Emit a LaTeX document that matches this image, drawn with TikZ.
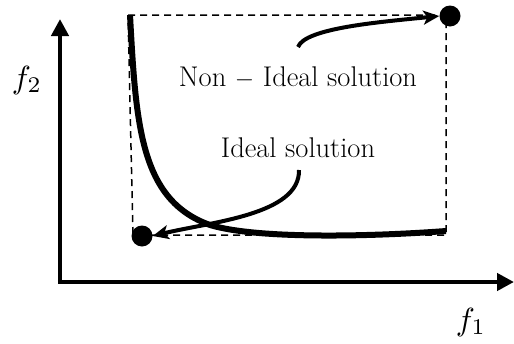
\documentclass[tikz,border=0pt]{standalone}
\usepackage{fontspec}
\usepackage{graphicx}
\usetikzlibrary{arrows.meta}
\begin{document}
\begin{tikzpicture}[x=1pt,y=-1pt,
  axis/.style={line width=4.5pt,-{Triangle[length=17pt,width=17pt]}},
  dot/.style={circle,fill=black,inner sep=0pt,minimum size=21pt},
  pointer/.style={line width=4pt,-{Stealth[length=16pt,width=14pt,inset=4pt]}},
  lbl/.style={font=\fontsize{28.5}{32}\selectfont,inner sep=0pt},
  axlbl/.style={inner sep=0pt},
  boxline/.style={line width=1.5pt,dash pattern=on 7pt off 5pt}]
\useasboundingbox (0,0) rectangle (514,343);
% axes
\coordinate (O) at (60,282);
\coordinate (Ytop) at (60,19);
\coordinate (Xend) at (514,282);
\draw[axis] (O) -- (Ytop);
\draw[axis] ([xshift=-2.2pt]O) -- (Xend);
\node[axlbl] (f2) at (27,80) {\scalebox{3.2}{$f_2$}};
\node[axlbl] (f1) at (471,322) {\scalebox{3.2}{$f_1$}};
% dashed box
\coordinate (TL) at (128,15);
\coordinate (BL) at (133,235);
\coordinate (BR) at (446,235);
\coordinate (TR) at (446,15);
\draw[boxline] (TL) -- (TR) -- (BR) -- (BL) -- cycle;
% front curve
\draw[line width=6pt] (130,15) .. controls (136,125) and (140,200) .. (210,225)
  .. controls (260,240) and (380,236) .. (446,231);
% dots
\node[dot] (nonideal) at (450,16) {};
\node[dot] (ideal) at (142,236) {};
% labels
\node[lbl] (tnon) at (298,78) {Non $-$ Ideal solution};
\node[lbl] (tid) at (298,148) {Ideal solution};
% arrows
\coordinate (s1) at (298,47);
\coordinate (s2) at (299,170);
\draw[pointer] (s1) .. controls (305,28) and (380,22) .. (nonideal.west);
\draw[pointer] (s2) .. controls (300,215) and (210,222) .. (ideal.east);
\end{tikzpicture}
\end{document}
